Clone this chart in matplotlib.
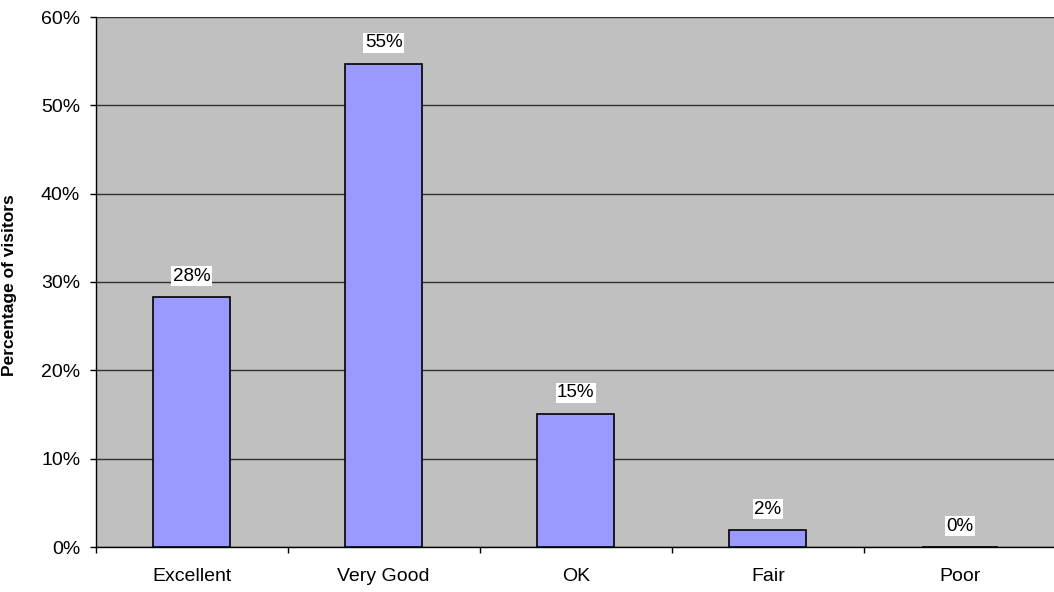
import matplotlib.pyplot as plt
from matplotlib.ticker import FixedLocator, PercentFormatter

# Données
categories = ['Excellent', 'Very Good', 'OK', 'Fair', 'Poor']
pourcentages = [28.3, 54.7, 15.1, 1.9, 0.0]
etiquettes = ['28%', '55%', '15%', '2%', '0%']

plt.rcParams['font.family'] = ['Liberation Sans', 'DejaVu Sans']

fig = plt.figure(figsize=(10.54, 5.92), dpi=100)
W, H = 1054, 592
ax = fig.add_axes([95.5 / W, (H - 547) / H, (1056 - 95.5) / W, 530 / H])
ax.set_facecolor('#C0C0C0')

x = range(len(categories))
ax.bar(x, pourcentages, width=0.40, color='#9999FF', edgecolor='black',
       linewidth=1.2, zorder=3)

# étiquettes des barres, fond blanc
for xi, v, lab in zip(x, pourcentages, etiquettes):
    ax.annotate(lab, (xi, v), xytext=(0, 15), textcoords='offset points',
                ha='center', va='center', fontsize=13.5, zorder=4,
                bbox=dict(boxstyle='square,pad=0.08', fc='white', ec='none'))

ax.set_xlim(-0.5, 4.5)
ax.set_ylim(0, 60)
ax.set_yticks(range(0, 61, 10))
ax.yaxis.set_major_formatter(PercentFormatter(decimals=0))
ax.yaxis.grid(True, color='#303030', linewidth=1.0, zorder=1)
ax.set_axisbelow(True)

ax.set_xticks(list(x))
ax.set_xticklabels(categories, fontsize=14)
ax.xaxis.set_minor_locator(FixedLocator([i - 0.5 for i in range(len(categories) + 1)]))
ax.tick_params(axis='x', which='major', length=0, pad=15)
ax.tick_params(axis='x', which='minor', length=4, width=1, color='black')
ax.tick_params(axis='y', length=4, width=1, pad=7, labelsize=14)

for s in ['top', 'right']:
    ax.spines[s].set_visible(False)
ax.spines['left'].set_linewidth(1.0)
ax.spines['bottom'].set_linewidth(1.0)

ax.set_ylabel('Percentage of visitors', fontsize=12.5, fontweight='bold')
ax.yaxis.set_label_coords((17 - 95.5) / (1056 - 95.5), 0.494)

fig.savefig('out.png', dpi=100)
